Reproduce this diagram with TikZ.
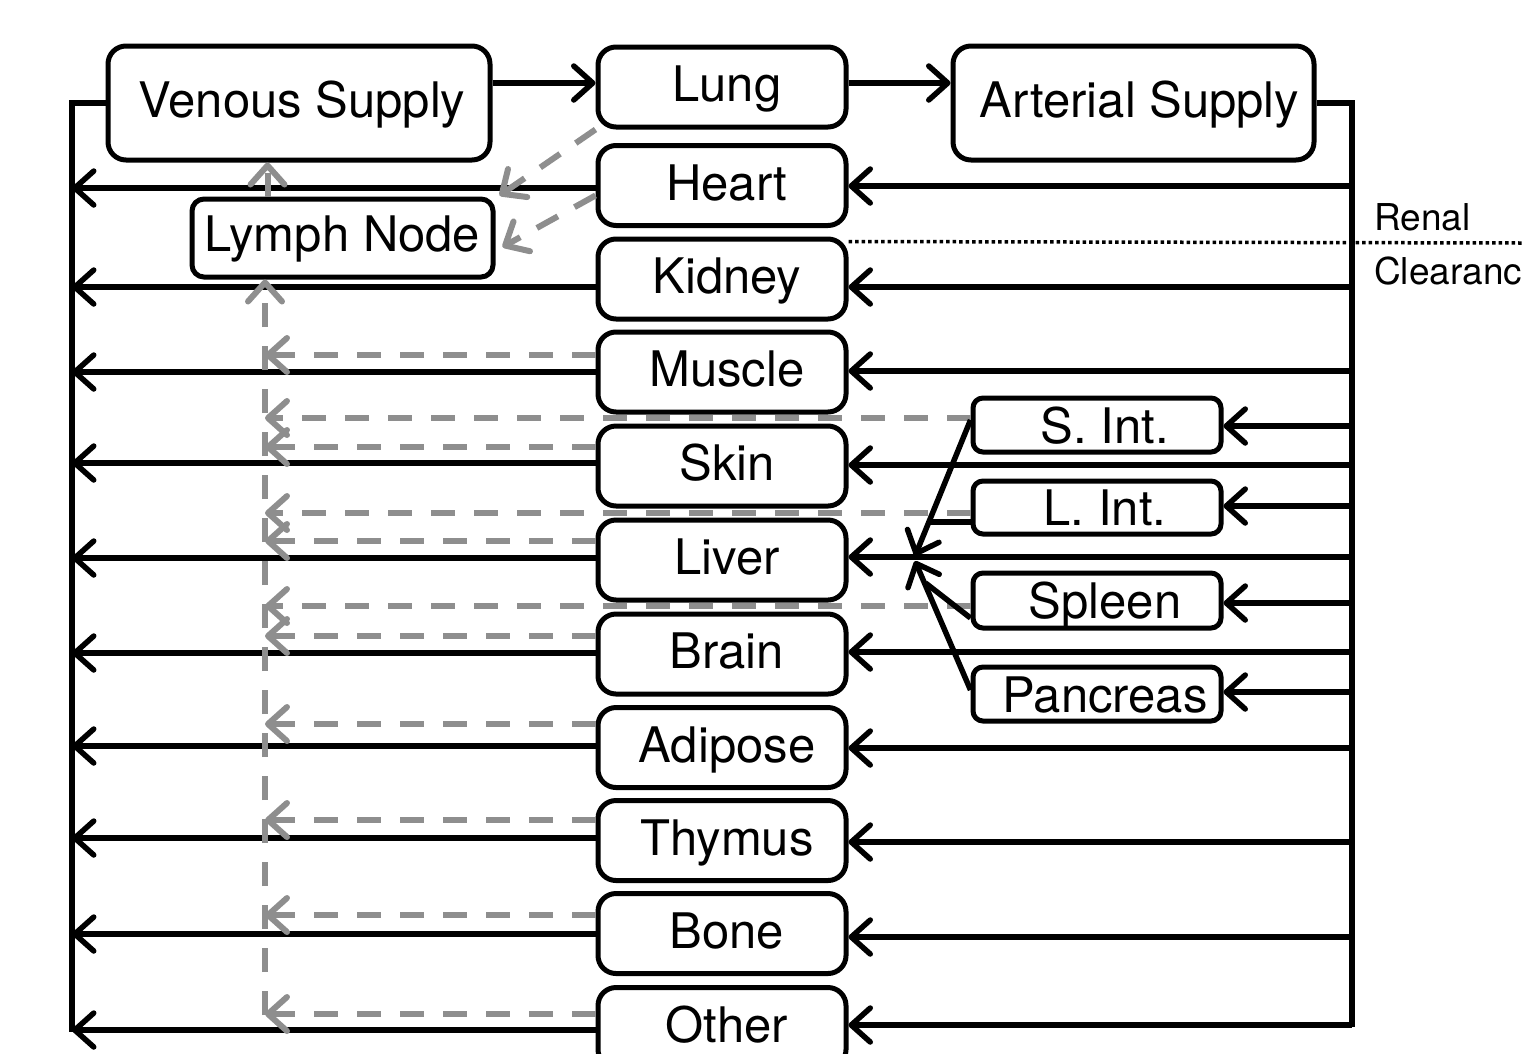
\documentclass[tikz,border=0pt]{standalone}
\usepackage{fontspec}
\setmainfont{TeX Gyre Heros}
\usetikzlibrary{arrows.meta}
\definecolor{lg}{RGB}{142,142,142}
\begin{document}
\begin{tikzpicture}[x=1pt,y=-1pt,
  box/.style={draw, line width=5pt, rounded corners=18pt, inner sep=0pt,
    font=\fontsize{49}{58}\selectfont, text height=35pt, text depth=6pt},
  organ/.style={box, minimum width=248pt, minimum height=80pt, execute at begin node={\hspace*{10pt}}},
  gut/.style={box, rounded corners=10pt, minimum width=248pt, minimum height=54pt, text height=36pt, text depth=0pt, execute at begin node={\hspace*{16pt}}},
  arr/.style={line width=5.5pt, -{Straight Barb[length=19pt,width=34pt,round]}},
  plain/.style={line width=5.5pt},
  garr/.style={line width=6pt, lg, dash pattern=on 24pt off 19pt, -{Straight Barb[length=19pt,width=34pt,round]}},
  dots/.style={line width=3.5pt, dash pattern=on 3.5pt off 3pt},
  lbl/.style={font=\fontsize{37}{44}\selectfont, inner sep=0pt, anchor=west}
]
\path[use as bounding box] (0,0) rectangle (1522,1053);
\clip (0,0) rectangle (1522,1053);

% main nodes
\node[box, minimum width=382pt, minimum height=114pt, execute at begin node={\hspace*{6pt}}] (venous) at (299,103) {Venous Supply};
\node[box, minimum width=361pt, minimum height=114pt, execute at begin node={\hspace*{12pt}}] (arterial) at (1133.5,103) {Arterial Supply};
\node[box, rounded corners=12pt, minimum width=301pt, minimum height=78pt, text depth=9pt] (lymph) at (342.5,238) {Lymph Node};

\node[organ] (lung) at (722,87) {Lung};
\node[organ] (heart) at (722,185.5) {Heart};
\node[organ] (kidney) at (722,279) {Kidney};
\node[organ] (muscle) at (722,372) {Muscle};
\node[organ] (skin) at (722,466) {Skin};
\node[organ] (liver) at (722,560) {Liver};
\node[organ] (brain) at (722,654) {Brain};
\node[organ] (adipose) at (722,747.5) {Adipose};
\node[organ] (thymus) at (722,840.5) {Thymus};
\node[organ] (bone) at (722,933.5) {Bone};
\node[organ] (other) at (722,1027.5) {Other};

\node[gut] (sint) at (1097,425) {S. Int.};
\node[gut, minimum height=53pt] (lint) at (1097,507.5) {L. Int.};
\node[gut, minimum height=55pt] (spleen) at (1097,600.5) {Spleen};
\node[gut] (panc) at (1097,694) {Pancreas};

\node[lbl] (renal) at (1374,217) {Renal};
\node[lbl] (clear) at (1374,271) {Clearanc};

% trunks
\coordinate (lbot) at (72,1032);
\coordinate (rbot) at (1352,1027);
\coordinate (lvbot) at (265,1015);
\draw[plain] (venous.west) -| (lbot);
\draw[plain] (arterial.east) -| (rbot);

% top flow
\path ([yshift=20pt]venous.east) coordinate (v1);
\draw[arr] (v1) -- (v1 -| lung.west);
\path ([yshift=4pt]lung.east) coordinate (l1);
\draw[arr] (l1) -- (l1 -| arterial.west);

% venous return
\foreach \n/\d in {heart/-2.5, kidney/-8, muscle/0, skin/3, liver/2, brain/1, adipose/1.5, thymus/2.5, bone/-0.5, other/-2.5}{
  \path ([yshift=\d pt]\n.west) coordinate (a);
  \draw[arr] (a) -- (a -| lbot);
}
% arterial supply
\foreach \n/\d in {heart/-0.5, kidney/-8, muscle/1, skin/1, liver/3, brain/2, adipose/-0.5, thymus/-1.5, bone/-3.5, other/2.5, sint/-1, lint/1.5, spleen/-2.5, panc/2}{
  \path ([yshift=\d pt]\n.east) coordinate (b);
  \draw[arr] (b -| rbot) -- (b);
}

% lymph flow
\foreach \n/\d in {muscle/17, skin/19, liver/19, brain/18, adipose/23.5, thymus/20.5, bone/18.5, other/13.5, sint/7, lint/-5.5, spleen/-5.5}{
  \path ([yshift=\d pt]\n.west) coordinate (c);
  \draw[garr] (c) -- (c -| lvbot);
}
\draw[garr] (lvbot) -- (lymph.south -| lvbot);
\coordinate (lx) at ([xshift=-75pt]lymph.north);
\draw[garr] (lx) -- (lx |- venous.south);
\draw[garr] (lung.south west) -- ([xshift=4pt,yshift=1pt]lymph.north east);
\draw[garr] ([yshift=-10pt]heart.west) -- ([xshift=7pt,yshift=-9pt]lymph.east);

% portal flow into hepatic artery
\coordinate (g1) at (915,556);
\coordinate (g2) at (915,561);
\coordinate (j1) at (929.5,522);
\coordinate (j2) at (925.5,583);
\draw[arr] ([yshift=5pt]sint.west) -- (g1);
\draw[arr] ([yshift=4pt]panc.west) -- (g2);
\draw[plain] ([yshift=-14.5pt]lint.west) -- (j1);
\draw[plain] ([yshift=-17.5pt]spleen.west) -- (j2);

% renal clearance
\coordinate (rend) at (1522,243);
\draw[dots] ([yshift=-5pt]kidney.north east) -- (rend);
\end{tikzpicture}
\end{document}
